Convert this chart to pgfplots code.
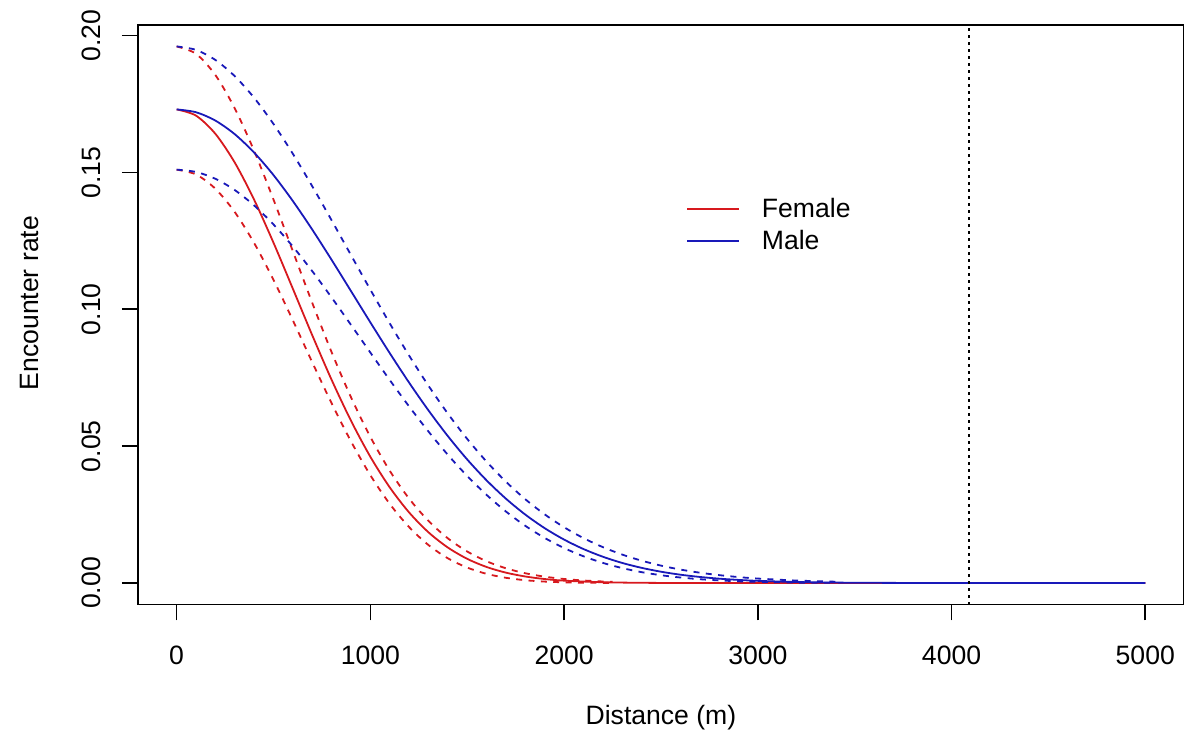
\documentclass[border=0pt]{standalone}
\usepackage{fontspec}
\setmainfont{Liberation Sans}
\usepackage{pgfplots}
\pgfplotsset{compat=1.18}
\definecolor{fem}{RGB}{215,25,30}
\definecolor{mal}{RGB}{25,25,185}

\begin{document}
\begin{tikzpicture}
\begin{axis}[
  scale only axis, width=523.5pt, height=290pt,
  xmin=-200, xmax=5200, ymin=-0.00784, ymax=0.20384,
  font=\fontsize{13.3pt}{16pt}\selectfont,
  /pgf/number format/assume math mode=true,
  /pgf/number format/set thousands separator={},
  xtick={0,1000,2000,3000,4000,5000},
  ytick={0,0.05,0.1,0.15,0.2},
  yticklabels={0.00,0.05,0.10,0.15,0.20},
  tick pos=left, tick align=outside, major tick length=8pt,
  tick style={black, line width=0.8pt},
  axis line style={line width=0.9pt},
  xticklabel style={yshift=-9pt},
  yticklabel style={xshift=-7pt, rotate=90, anchor=south},
  xlabel={Distance (m)}, ylabel={Encounter rate},
  xlabel style={at={(rel axis cs:0.5,0)}, anchor=center, yshift=-56.5pt},
  ylabel style={at={(rel axis cs:-0.1032,0.52)}, anchor=center},
  legend style={draw=none, fill=none, at={(rel axis cs:0.518,0.716)}, anchor=north west,
    row sep=1pt},
  legend cell align=left,
  legend image code/.code={\draw[#1] (0pt,0pt) -- (26pt,0pt); \path (35pt,0pt);},
  every axis plot/.append style={line width=0.9pt},
  dashstyle/.style={dash pattern=on 3pt off 3.2pt},
]
% Female
\addplot[fem, smooth, forget plot] coordinates {
(0,0.173)(100,0.17073)(200,0.16409)(300,0.15359)(400,0.14002)(500,0.12431)
(600,0.10749)(700,0.09052)(800,0.07423)(900,0.05930)(1000,0.04612)
(1100,0.03495)(1200,0.02579)(1300,0.01853)(1400,0.01297)(1500,0.00884)
(1600,0.00586)(1700,0.00379)(1800,0.00239)(1900,0.00146)(2000,0.00087)
(2200,0.00029)(2400,0.00009)(2600,0.00002)(3000,0)(4000,0)(5000,0)};
\addplot[fem, dashstyle, smooth, forget plot] coordinates {
(0,0.196)(100,0.19331)(200,0.18555)(300,0.17340)(400,0.15786)(500,0.14007)
(600,0.12121)(700,0.10234)(800,0.08433)(900,0.06788)(1000,0.05338)
(1100,0.04103)(1200,0.03084)(1300,0.02269)(1400,0.01633)(1500,0.01152)
(1600,0.00795)(1700,0.00538)(1800,0.00357)(1900,0.00232)(2000,0.00148)
(2100,0.00093)(2200,0.00057)(2250,0.00044)};
\addplot[fem, dashstyle, smooth, forget plot] coordinates {
(0,0.151)(100,0.14925)(200,0.14402)(300,0.13552)(400,0.12421)(500,0.11075)
(600,0.09595)(700,0.08065)(800,0.06568)(900,0.05176)(1000,0.03939)
(1100,0.02892)(1200,0.02044)(1300,0.01388)(1400,0.00904)(1500,0.00564)
(1600,0.00336)(1700,0.00191)(1800,0.00103)(1900,0.00053)(2000,0.00026)
(2100,0.00012)(2250,0.00004)};
% Male
\addplot[mal, smooth, forget plot] coordinates {
(0,0.173)(100,0.17197)(200,0.16892)(300,0.16395)(400,0.15723)(500,0.14901)
(600,0.13953)(700,0.12911)(800,0.11805)(900,0.10665)(1000,0.09521)
(1100,0.08399)(1200,0.07320)(1300,0.06306)(1400,0.05367)(1500,0.04513)
(1600,0.03750)(1700,0.03080)(1800,0.02499)(1900,0.02003)(2000,0.01587)
(2100,0.01242)(2200,0.00961)(2300,0.00734)(2400,0.00555)(2500,0.00414)
(2600,0.00305)(2700,0.00223)(2800,0.00160)(2900,0.00114)(3000,0.00080)
(3200,0.00038)(3400,0.00017)(3600,0.00008)(4000,0.00001)(5000,0)};
\addplot[mal, dashstyle, smooth, forget plot] coordinates {
(0,0.196)(100,0.19475)(200,0.19107)(300,0.18515)(400,0.17725)(500,0.16768)
(600,0.15679)(700,0.14494)(800,0.13250)(900,0.11980)(1000,0.10716)
(1100,0.09486)(1200,0.08309)(1300,0.07207)(1400,0.06189)(1500,0.05263)
(1600,0.04434)(1700,0.03701)(1800,0.03060)(1900,0.02508)(2000,0.02038)
(2100,0.01642)(2200,0.01312)(2300,0.01039)(2400,0.00817)(2500,0.00637)
(2600,0.00493)(2700,0.00378)(2800,0.00289)(2900,0.00218)(3000,0.00164)
(3200,0.00091)(3400,0.00049)};
\addplot[mal, dashstyle, smooth, forget plot] coordinates {
(0,0.151)(100,0.15016)(200,0.14766)(300,0.14354)(400,0.13793)(500,0.13098)
(600,0.12291)(700,0.11392)(800,0.10430)(900,0.09430)(1000,0.08418)
(1100,0.07417)(1200,0.06450)(1300,0.05534)(1400,0.04684)(1500,0.03910)
(1600,0.03219)(1700,0.02612)(1800,0.02089)(1900,0.01647)(2000,0.01278)
(2100,0.00978)(2200,0.00736)(2300,0.00546)(2400,0.00398)(2500,0.00286)
(2600,0.00202)(2700,0.00140)(2800,0.00096)(2900,0.00064)(3000,0.00042)
(3200,0.00017)(3400,0.00007)};
% cut-off distance
\addplot[black, line width=0.8pt, dash pattern=on 1.3pt off 2.2pt, forget plot]
  coordinates {(4090,-0.00784)(4090,0.20384)};
\addlegendimage{fem}
\addlegendentry{Female}
\addlegendimage{mal}
\addlegendentry{Male}
\end{axis}
\pgfresetboundingbox
\path[use as bounding box] ([xshift=-69pt,yshift=-67.5pt]current axis.south west)
  rectangle ([yshift=12.5pt]current axis.north east);
\end{tikzpicture}
\end{document}
